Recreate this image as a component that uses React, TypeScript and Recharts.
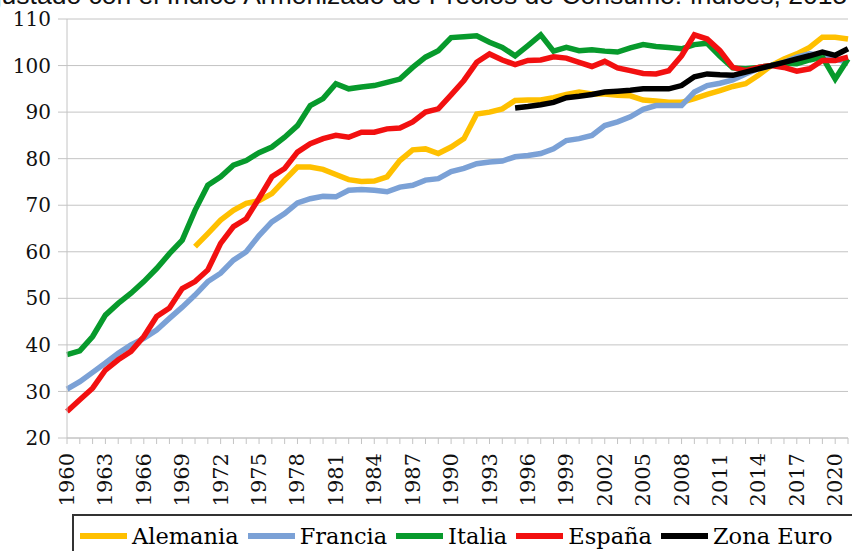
import React from 'react';
import { LineChart, Line, XAxis, YAxis, CartesianGrid } from 'recharts';

const years: number[] = [];
for (let y = 1960; y <= 2021; y++) years.push(y);

const alemania: (number | null)[] = [
  null, null, null, null, null, null, null, null, null, null,
  61.1, 63.9, 66.8, 68.9, 70.4, 71.0, 72.5, 75.4, 78.2, 78.2,
  77.7, 76.6, 75.5, 75.1, 75.2, 76.1, 79.6, 81.9, 82.1, 81.1,
  82.5, 84.3, 89.6, 90.0, 90.7, 92.5, 92.6, 92.6, 93.1, 93.8,
  94.3, 93.9, 93.9, 93.6, 93.5, 92.6, 92.4, 92.1, 92.1, 92.9,
  93.8, 94.6, 95.5, 96.1, 97.9, 100.0, 101.4, 102.5, 103.9, 106.1,
  106.1, 105.7,
];

const francia: number[] = [
  30.5, 32.1, 34.1, 36.1, 38.2, 40.0, 41.4, 43.2, 45.7, 48.1,
  50.7, 53.6, 55.4, 58.2, 60.0, 63.5, 66.4, 68.2, 70.5, 71.4,
  71.9, 71.8, 73.2, 73.4, 73.2, 72.9, 73.9, 74.3, 75.4, 75.7,
  77.2, 77.9, 78.9, 79.3, 79.5, 80.4, 80.7, 81.1, 82.1, 83.9,
  84.3, 85.0, 87.1, 87.9, 89.0, 90.6, 91.4, 91.4, 91.4, 94.3,
  95.7, 96.2, 96.9, 98.2, 99.3, 100.0, 100.7, 101.8, 102.5, 102.1,
  101.4, 100.7,
];

const italia: number[] = [
  37.9, 38.7, 41.8, 46.4, 48.9, 51.1, 53.6, 56.4, 59.6, 62.5,
  68.9, 74.3, 76.1, 78.6, 79.6, 81.3, 82.5, 84.6, 87.1, 91.4,
  92.9, 96.1, 95.0, 95.4, 95.7, 96.4, 97.1, 99.6, 101.8, 103.2,
  106.0, 106.2, 106.4, 105.0, 103.9, 102.1, 104.3, 106.6, 103.1, 103.9,
  103.2, 103.4, 103.1, 102.9, 103.8, 104.5, 104.1, 103.9, 103.6, 104.5,
  104.8, 102.0, 99.5, 99.3, 99.6, 100.0, 100.5, 100.4, 101.2, 101.8,
  97.1, 101.4,
];

const espana: number[] = [
  25.7, 28.2, 30.7, 34.6, 36.8, 38.6, 41.8, 46.1, 47.9, 52.1,
  53.6, 56.1, 61.8, 65.4, 67.1, 71.5, 76.1, 77.9, 81.4, 83.2,
  84.3, 85.0, 84.6, 85.7, 85.7, 86.4, 86.6, 87.9, 90.0, 90.7,
  93.7, 96.8, 100.7, 102.5, 101.2, 100.2, 101.1, 101.2, 101.9, 101.6,
  100.7, 99.8, 100.9, 99.5, 98.9, 98.3, 98.2, 98.9, 102.1, 106.6,
  105.7, 103.2, 99.6, 98.9, 99.6, 100.0, 99.6, 98.8, 99.3, 101.1,
  101.1, 101.8,
];

const zonaEuro: (number | null)[] = [
  null, null, null, null, null, null, null, null, null, null,
  null, null, null, null, null, null, null, null, null, null,
  null, null, null, null, null, null, null, null, null, null,
  null, null, null, null, null, 90.9, 91.2, 91.6, 92.1, 93.1,
  93.4, 93.8, 94.3, 94.5, 94.7, 95.0, 95.0, 95.0, 95.7, 97.6,
  98.2, 98.0, 97.9, 98.6, 99.3, 100.0, 100.7, 101.4, 102.1, 102.9,
  102.2, 103.6,
];

const yTicks = [20, 30, 40, 50, 60, 70, 80, 90, 100, 110];

const series = [
  { key: 'alemania', name: 'Alemania', color: '#FFC000' },
  { key: 'francia', name: 'Francia', color: '#7BA1D6' },
  { key: 'italia', name: 'Italia', color: '#079A2C' },
  { key: 'espana', name: 'España', color: '#F21010' },
  { key: 'zonaEuro', name: 'Zona Euro', color: '#000000' },
];

const data = years.map((year, i) => ({
  year,
  alemania: alemania[i],
  francia: francia[i],
  italia: italia[i],
  espana: espana[i],
  zonaEuro: zonaEuro[i],
}));

const serif = '"DejaVu Serif", serif';

// only every third year gets a label, but every year keeps its tick mark
const YearTick = (props: any) => {
  const { x, y, payload } = props;
  const year = Number(payload.value);
  if ((year - 1960) % 3 !== 0) return null;
  return (
    <text
      x={x}
      y={y}
      transform={`rotate(-90, ${x}, ${y})`}
      textAnchor="end"
      dominantBaseline="central"
      fontFamily={serif}
      fontSize={21}
      fill="#111"
    >
      {year}
    </text>
  );
};

const App: React.FC = () => {
  return (
    <div style={{ position: 'absolute', left: 0, top: 0, width: 852, height: 551, overflow: 'hidden', background: '#fff' }}>
      {/* title is cut off at the top, as in the source picture */}
      <div
        style={{
          position: 'absolute',
          top: -15.5,
          left: -22,
          whiteSpace: 'nowrap',
          fontFamily: '"Liberation Sans", Arial, sans-serif',
          fontSize: 26.5,
          lineHeight: 0.8,
          color: '#111',
        }}
      >
        Ajustado con el Índice Armonizado de Precios de Consumo: índices, 2015=100
      </div>
      <LineChart width={852} height={551} data={data} margin={{ top: 19, right: 4, bottom: 0, left: 0 }}>
        <CartesianGrid vertical={false} stroke="#c4c4c4" />
        <XAxis
          dataKey="year"
          interval={0}
          height={113}
          tickSize={6}
          tickMargin={9}
          tickLine={{ stroke: '#c4c4c4' }}
          axisLine={{ stroke: '#c4c4c4' }}
          tick={<YearTick />}
        />
        <YAxis
          domain={[20, 110]}
          ticks={yTicks}
          width={67}
          tickSize={9}
          tickMargin={7}
          tickLine={{ stroke: '#c4c4c4' }}
          axisLine={{ stroke: '#c4c4c4' }}
          tick={{ fontFamily: serif, fontSize: 20, fill: '#111' }}
        />
        {series.map(s => (
          <Line
            key={s.key}
            type="linear"
            dataKey={s.key}
            name={s.name}
            stroke={s.color}
            strokeWidth={5.5}
            dot={false}
            activeDot={false}
            isAnimationActive={false}
          />
        ))}
      </LineChart>
      <div
        style={{
          position: 'absolute',
          left: 72,
          top: 514,
          width: 820,
          height: 40,
          border: '2px solid #333',
          display: 'flex',
          alignItems: 'center',
          paddingLeft: 6,
          fontFamily: serif,
          fontSize: 22.5,
          color: '#000',
        }}
      >
        {series.map(s => (
          <div key={s.key} style={{ display: 'flex', alignItems: 'center', marginRight: 9 }}>
            <span style={{ display: 'inline-block', width: 47, height: 6, background: s.color, marginRight: 5 }} />
            <span>{s.name}</span>
          </div>
        ))}
      </div>
    </div>
  );
};

export default App;
